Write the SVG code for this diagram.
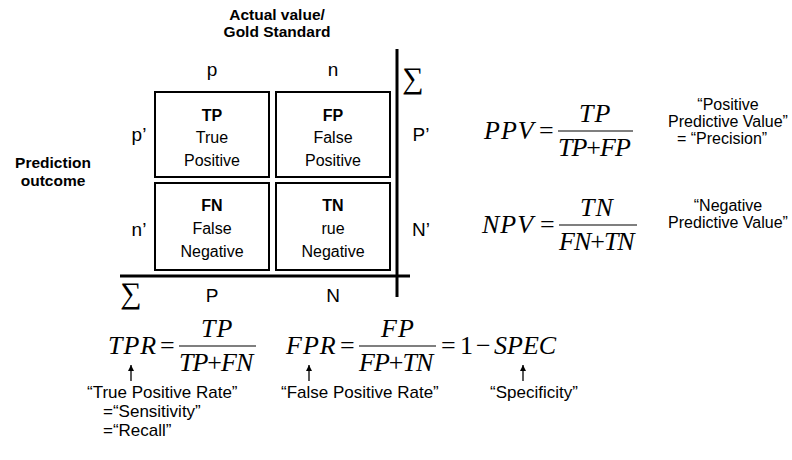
<svg xmlns="http://www.w3.org/2000/svg" width="792" height="460" viewBox="0 0 792 460">
  <defs>
    <marker id="arrowhead" viewBox="0 0 10 10" refX="10" refY="5" markerWidth="7" markerHeight="6" orient="auto" markerUnits="userSpaceOnUse">
      <path d="M0,0 L10,5 L0,10 Z" fill="#000"/>
    </marker>
    <style>
      .hdr { font-family: "Liberation Sans", Arial, sans-serif; font-weight: bold; font-size: 15.5px; text-anchor: middle; }
      .lbl { font-family: "Liberation Sans", Arial, sans-serif; font-size: 19px; text-anchor: middle; }
      .cell { font-family: "Liberation Sans", Arial, sans-serif; font-size: 16px; text-anchor: middle; }
      .cellb { font-family: "Liberation Sans", Arial, sans-serif; font-size: 16px; font-weight: bold; text-anchor: middle; }
      .note { font-family: "Liberation Sans", Arial, sans-serif; font-size: 17px; }
      .notec { font-family: "Liberation Sans", Arial, sans-serif; font-size: 16px; text-anchor: middle; }
      .sum { font-family: "Liberation Serif", "DejaVu Serif", serif; font-size: 30px; text-anchor: middle; }
      .math { font-family: "Liberation Serif", "Times New Roman", serif; font-style: italic; font-size: 26px; }
      .name { letter-spacing: 1px; }
      .num { letter-spacing: 1px; }
      .den { letter-spacing: -1px; }
      .up { font-style: normal; }
      .box { fill: #fff; stroke: #000; stroke-width: 2; }
      .rule { stroke: #000; stroke-width: 3; fill: none; }
      .bar { stroke: #000; stroke-width: 1.2; }
      .arrow { stroke: #000; stroke-width: 1.3; marker-end: url(#arrowhead); }
    </style>
  </defs>

  <!-- axis titles -->
  <g id="axis-actual">
    <text class="hdr" x="277" y="20">Actual value/</text>
    <text class="hdr" x="277" y="37">Gold Standard</text>
  </g>
  <g id="axis-predicted">
    <text class="hdr" x="53" y="168">Prediction</text>
    <text class="hdr" x="53" y="186">outcome</text>
  </g>

  <!-- column / row headings and margin totals -->
  <g id="headings">
    <text class="lbl" x="212" y="76">p</text>
    <text class="lbl" x="333" y="76">n</text>
    <text class="lbl" x="139" y="141">p’</text>
    <text class="lbl" x="139" y="236">n’</text>
    <text class="lbl" x="421" y="141">P’</text>
    <text class="lbl" x="421" y="236">N’</text>
    <text class="lbl" x="212" y="302">P</text>
    <text class="lbl" x="333" y="302">N</text>
    <text class="sum" x="413" y="88">∑</text>
    <text class="sum" x="131" y="303">∑</text>
  </g>

  <!-- rules separating the totals -->
  <g id="rules">
    <line class="rule" x1="397" y1="49" x2="397" y2="297"/>
    <line class="rule" x1="120" y1="276" x2="410" y2="276"/>
  </g>

  <!-- confusion matrix cells -->
  <g id="cell-tp">
    <rect class="box" x="155" y="92" width="114" height="85"/>
    <text class="cellb" x="212" y="121">TP</text>
    <text class="cell" x="212" y="143">True</text>
    <text class="cell" x="212" y="166">Positive</text>
  </g>
  <g id="cell-fp">
    <rect class="box" x="276" y="92" width="114" height="85"/>
    <text class="cellb" x="333" y="121">FP</text>
    <text class="cell" x="333" y="143">False</text>
    <text class="cell" x="333" y="166">Positive</text>
  </g>
  <g id="cell-fn">
    <rect class="box" x="155" y="183" width="114" height="87"/>
    <text class="cellb" x="212" y="211">FN</text>
    <text class="cell" x="212" y="234">False</text>
    <text class="cell" x="212" y="257">Negative</text>
  </g>
  <g id="cell-tn">
    <rect class="box" x="276" y="183" width="114" height="87"/>
    <text class="cellb" x="333" y="211">TN</text>
    <text class="cell" x="333" y="234">rue</text>
    <text class="cell" x="333" y="257">Negative</text>
  </g>

  <!-- positive predictive value -->
  <g id="ppv">
    <text class="math name" x="484" y="139">PPV</text>
    <text class="math up" x="539" y="139">=</text>
    <line class="bar" x1="558" y1="131" x2="633" y2="131"/>
    <text class="math num" x="579" y="122">TP</text>
    <text class="math den" x="558" y="156">TP<tspan class="up">+</tspan>FP</text>
    <text class="notec" x="728" y="110">“Positive</text>
    <text class="notec" x="728" y="127">Predictive Value”</text>
    <text class="notec" x="722" y="144">= “Precision”</text>
  </g>

  <!-- negative predictive value -->
  <g id="npv">
    <text class="math name" x="482" y="233">NPV</text>
    <text class="math up" x="540" y="233">=</text>
    <line class="bar" x1="559" y1="225" x2="637" y2="225"/>
    <text class="math num" x="580" y="216">TN</text>
    <text class="math den" x="559" y="250">FN<tspan class="up">+</tspan>TN</text>
    <text class="notec" x="728" y="211">“Negative</text>
    <text class="notec" x="728" y="228">Predictive Value”</text>
  </g>

  <!-- true positive rate -->
  <g id="tpr">
    <text class="math name" x="108" y="354">TPR</text>
    <text class="math up" x="160" y="354">=</text>
    <line class="bar" x1="179" y1="346" x2="256" y2="346"/>
    <text class="math num" x="201" y="337">TP</text>
    <text class="math den" x="179" y="371">TP<tspan class="up">+</tspan>FN</text>
  </g>

  <!-- false positive rate -->
  <g id="fpr">
    <text class="math name" x="286" y="354">FPR</text>
    <text class="math up" x="340" y="354">=</text>
    <line class="bar" x1="359" y1="346" x2="436" y2="346"/>
    <text class="math num" x="381" y="337">FP</text>
    <text class="math den" x="359" y="371">FP<tspan class="up">+</tspan>TN</text>
    <text class="math up" x="441" y="354">=</text>
    <text class="math up" x="460" y="354">1</text>
    <text class="math up" x="476" y="354">−</text>
    <text class="math" x="494" y="354">SPEC</text>
  </g>

  <!-- pointers to the named rates -->
  <g id="connectors">
    <line class="arrow" x1="131" y1="381" x2="131" y2="365"/>
    <line class="arrow" x1="309" y1="381" x2="309" y2="365"/>
    <line class="arrow" x1="523" y1="381" x2="523" y2="365"/>
  </g>

  <g id="names">
    <text class="note" x="87" y="398">“True Positive Rate”</text>
    <text class="note" x="103" y="417">=“Sensitivity”</text>
    <text class="note" x="103" y="436">=“Recall”</text>
    <text class="note" x="281" y="398">“False Positive Rate”</text>
    <text class="note" x="490" y="398">“Specificity”</text>
  </g>
</svg>
